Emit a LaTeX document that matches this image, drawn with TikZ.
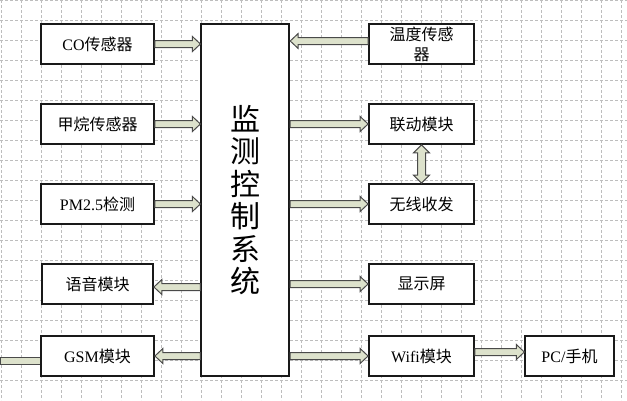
\documentclass[tikz,border=0pt]{standalone}
\usepackage{fontspec}
\setmainfont{Liberation Serif}
\newfontfamily\cjk{Noto Sans CJK SC}
\usetikzlibrary{calc}
\definecolor{arrowfill}{HTML}{DDE2CC}
\definecolor{arrowline}{HTML}{4A4A4A}
\definecolor{gridc}{HTML}{BDBDBD}
\tikzset{
  box/.style={draw=black!90, line width=1.8pt, fill=white, minimum width=113pt, minimum height=40pt, inner sep=1pt, align=center, font=\fontsize{16}{20}\selectfont},
  rbox/.style={box, minimum width=105pt},
  shaft/.style={draw=arrowline, line width=1pt, fill=arrowfill, line join=miter},
  gridline/.style={gridc, line width=0.6pt, dash pattern=on 3pt off 2pt}
}
% single block arrow from #1 to #2
\newcommand\blockarrow[2]{\draw[shaft] let \p1=($(#2)-(#1)$), \n1={veclen(\x1,\y1)}, \n2={atan2(\y1,\x1)} in [shift={(#1)}, rotate=\n2]
  (0pt,3.5pt) -- ({\n1-8pt},3.5pt) -- ({\n1-8pt},7.5pt) -- (\n1,0pt) -- ({\n1-8pt},-7.5pt) -- ({\n1-8pt},-3.5pt) -- (0pt,-3.5pt) -- cycle;}
% double block arrow between #1 and #2
\newcommand\dblockarrow[2]{\draw[shaft] let \p1=($(#2)-(#1)$), \n1={veclen(\x1,\y1)}, \n2={atan2(\y1,\x1)} in [shift={(#1)}, rotate=\n2]
  (0pt,0pt) -- (8pt,8pt) -- (8pt,4pt) -- ({\n1-8pt},4pt) -- ({\n1-8pt},8pt) -- (\n1,0pt) -- ({\n1-8pt},-8pt) -- ({\n1-8pt},-4pt) -- (8pt,-4pt) -- (8pt,-8pt) -- cycle;}
\begin{document}
\begin{tikzpicture}[x=1pt,y=-1pt]
\useasboundingbox (0,0) rectangle (627,400);
\fill[white] (0,0) rectangle (627,400);
\foreach \k in {0,...,31} \draw[gridline] (1.7+20*\k,0) -- (1.7+20*\k,400);
\foreach \k in {0,...,19} \draw[gridline] (0,0.7+20*\k) -- (627,0.7+20*\k);

\node[box] (co) at (97.5,44) {CO{\cjk 传感器}};
\node[box] (ch4) at (97.5,124) {\cjk 甲烷传感器};
\node[box] (pm) at (97.5,204) {PM2.5{\cjk 检测}};
\node[box, minimum width=111pt] (voice) at (97.5,284) {\cjk 语音模块};
\node[box] (gsm) at (97.5,356) {GSM{\cjk 模块}};
\node[box, minimum width=88pt, minimum height=352pt, font=\cjk\fontsize{30}{32.5}\selectfont] (ctrl) at (245.3,200) {监\\测\\控\\制\\系\\统};
\node[rbox, font=\cjk\fontsize{16}{20}\selectfont] (temp) at (421.5,44) {温度传感\\器};
\node[rbox] (link) at (421.5,124) {\cjk 联动模块};
\node[rbox] (wl) at (421.5,204) {\cjk 无线收发};
\node[rbox] (disp) at (421.5,284) {\cjk 显示屏};
\node[rbox] (wifi) at (421.5,356) {Wifi{\cjk 模块}};
\node[box, minimum width=88.5pt] (pc) at (569.5,356) {PC/{\cjk 手机}};

\coordinate (t1) at ([yshift=3pt]temp.west);
\coordinate (v1) at ([yshift=-3pt]voice.east);
\coordinate (w1) at ([yshift=4pt]wifi.east);
\coordinate (g1) at (0,361);

\coordinate (coE) at (co.east -| ctrl.west);
\coordinate (ch4E) at (ch4.east -| ctrl.west);
\coordinate (pmE) at (pm.east -| ctrl.west);
\coordinate (vS) at (v1 -| ctrl.west);
\coordinate (gS) at (gsm.east -| ctrl.west);
\coordinate (tE) at (t1 -| ctrl.east);
\coordinate (lS) at (link.west -| ctrl.east);
\coordinate (wlS) at (wl.west -| ctrl.east);
\coordinate (dS) at (disp.west -| ctrl.east);
\coordinate (wfS) at (wifi.west -| ctrl.east);
\coordinate (pcE) at (w1 -| pc.west);

\blockarrow{co.east}{coE}
\blockarrow{ch4.east}{ch4E}
\blockarrow{pm.east}{pmE}
\blockarrow{vS}{v1}
\blockarrow{gS}{gsm.east}
\blockarrow{t1}{tE}
\blockarrow{lS}{link.west}
\blockarrow{wlS}{wl.west}
\blockarrow{dS}{disp.west}
\blockarrow{wfS}{wifi.west}
\blockarrow{w1}{pcE}
\dblockarrow{link.south}{wl.north}
\draw[shaft] ([yshift=3.5pt]g1 -| gsm.west) -- ([yshift=3.5pt]g1) -- ([yshift=-3.5pt]g1) -- ([yshift=-3.5pt]g1 -| gsm.west);
\end{tikzpicture}
\end{document}
